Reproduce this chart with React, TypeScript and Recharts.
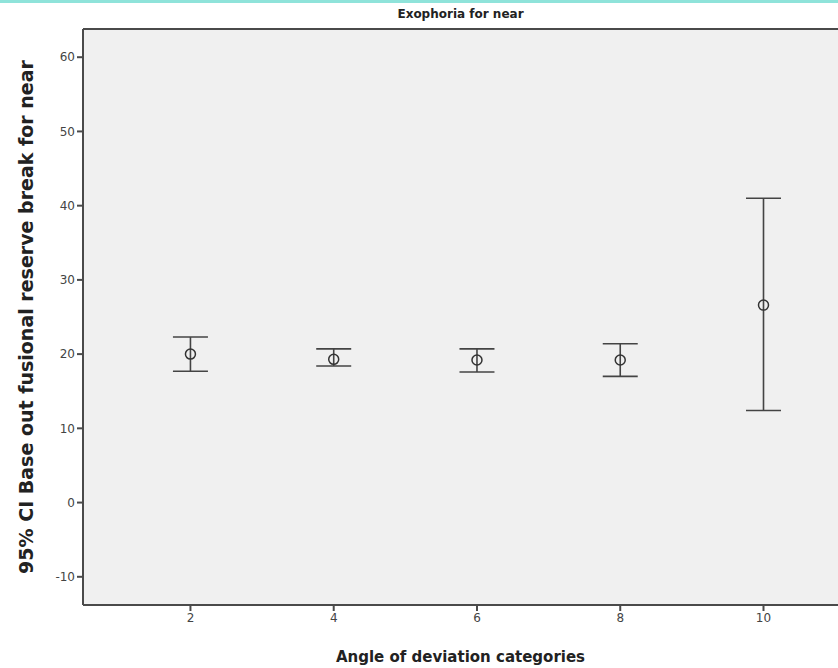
import React from 'react'
import {
  ComposedChart,
  Scatter,
  ErrorBar,
  XAxis,
  YAxis,
  CartesianGrid,
  ReferenceLine,
  Label,
} from 'recharts'

const categories = [2, 4, 6, 8, 10]
const means = [20.0, 19.3, 19.2, 19.2, 26.6]
const lowerCI = [17.7, 18.4, 17.6, 17.0, 12.4]
const upperCI = [22.3, 20.7, 20.7, 21.4, 41.0]
const yTicks = [-10, 0, 10, 20, 30, 40, 50, 60]

const data = categories.map((c, i) => ({
  angle: c,
  mean: means[i],
  ci: [means[i] - lowerCI[i], upperCI[i] - means[i]],
}))

const FONT = '"DejaVu Sans", sans-serif'
const AXIS = '#4a4a4a'

const HollowCircle = (props: any) => {
  const { cx, cy } = props
  return <circle cx={cx} cy={cy} r={5} fill="none" stroke="#333" strokeWidth={1.5} />
}

export default function App() {
  return (
    <div style={{ position: 'absolute', left: 0, top: 0, width: 838, height: 668, background: '#fff' }}>
      <div style={{ position: 'absolute', left: 0, top: 0, width: 838, height: 3, background: '#8fe3da' }} />
      <div
        style={{
          position: 'absolute',
          top: 7,
          left: 83,
          width: 755,
          textAlign: 'center',
          fontFamily: FONT,
          fontWeight: 'bold',
          fontSize: 12,
          color: '#222',
        }}
      >
        Exophoria for near
      </div>
      <ComposedChart width={838} height={668} margin={{ top: 29, right: 0, bottom: 0, left: 0 }} data={data}>
        <CartesianGrid fill="#f0f0f0" horizontal={false} vertical={false} />
        <XAxis
          type="number"
          dataKey="angle"
          domain={[0.5, 11.04]}
          ticks={categories}
          height={63}
          stroke={AXIS}
          strokeWidth={2}
          tickSize={6}
          tick={{ fill: '#444', fontSize: 12, fontFamily: FONT }}
          allowDataOverflow
        >
          <Label
            value="Angle of deviation categories"
            position="insideBottom"
            offset={6}
            style={{ fontFamily: FONT, fontWeight: 'bold', fontSize: 15, fill: '#222' }}
          />
        </XAxis>
        <YAxis
          type="number"
          domain={[-13.8, 63.8]}
          ticks={yTicks}
          width={83}
          stroke={AXIS}
          strokeWidth={2}
          tickSize={6}
          tick={{ fill: '#444', fontSize: 12, fontFamily: FONT }}
          allowDataOverflow
        >
          <Label
            value="95% CI Base out fusional reserve break for near"
            angle={-90}
            position="insideLeft"
            offset={26}
            style={{ textAnchor: 'middle', fontFamily: FONT, fontWeight: 'bold', fontSize: 19, fill: '#222' }}
          />
        </YAxis>
        <ReferenceLine y={63.8} stroke={AXIS} strokeWidth={2} />
        <Scatter dataKey="mean" shape={<HollowCircle />} isAnimationActive={false}>
          <ErrorBar dataKey="ci" direction="y" width={17.5} stroke="#444" strokeWidth={1.6} />
        </Scatter>
      </ComposedChart>
    </div>
  )
}
